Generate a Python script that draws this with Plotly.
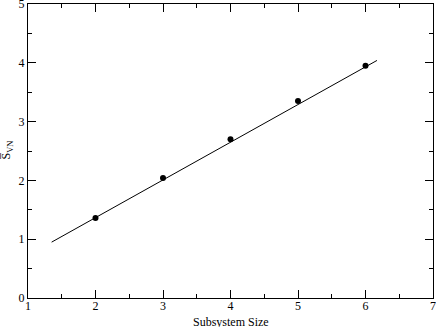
import plotly.graph_objects as go

sizes = [2, 3, 4, 5, 6]
svn = [1.36, 2.04, 2.70, 3.35, 3.95]
fit_x = [1.35, 6.17]
fit_y = [0.95, 4.04]
x_ticks = [1, 2, 3, 4, 5, 6, 7]
y_ticks = [0, 1, 2, 3, 4, 5]
x_title = "Subsystem Size"
y_title = "S\u0305<sub>VN</sub>"

serif = "Liberation Serif"

fig = go.Figure()
fig.add_trace(go.Scatter(x=fit_x, y=fit_y, mode="lines",
                         line=dict(color="black", width=1), showlegend=False))
fig.add_trace(go.Scatter(x=sizes, y=svn, mode="markers",
                         marker=dict(color="black", size=6), showlegend=False))

axis_common = dict(showgrid=False, zeroline=False, showline=True, linecolor="black",
                   linewidth=1, mirror="allticks", ticks="inside", ticklen=8,
                   tickcolor="black", automargin=False, ticklabeloverflow="allow",
                   tickfont=dict(family=serif, size=12, color="black"))

fig.update_xaxes(range=[1, 7], tickvals=x_ticks, ticktext=[str(v) for v in x_ticks],
                 minor=dict(ticks="inside", ticklen=4, dtick=0.5, tick0=1, tickcolor="black"),
                 ticklabelstandoff=-3, **axis_common)
fig.update_yaxes(range=[0, 5], tickvals=y_ticks, ticktext=[str(v) for v in y_ticks],
                 minor=dict(ticks="inside", ticklen=4, dtick=0.5, tick0=0, tickcolor="black"),
                 **axis_common)

fig.add_annotation(text=x_title, xref="paper", yref="paper", x=0.5, y=0,
                   yshift=-15, xanchor="center", yanchor="top", showarrow=False,
                   font=dict(family=serif, size=12, color="black"))
fig.add_annotation(text=y_title, xref="paper", yref="paper", x=0, y=0.5,
                   xshift=-21, xanchor="center", yanchor="middle", textangle=-90,
                   showarrow=False, font=dict(family=serif, size=12, color="black"))

fig.update_layout(width=436, height=327, margin=dict(l=28, r=3, t=4, b=29),
                  plot_bgcolor="white", paper_bgcolor="white")
fig.write_html("out.html", config={"displayModeBar": False},
               post_script="document.body.style.margin='0';")
